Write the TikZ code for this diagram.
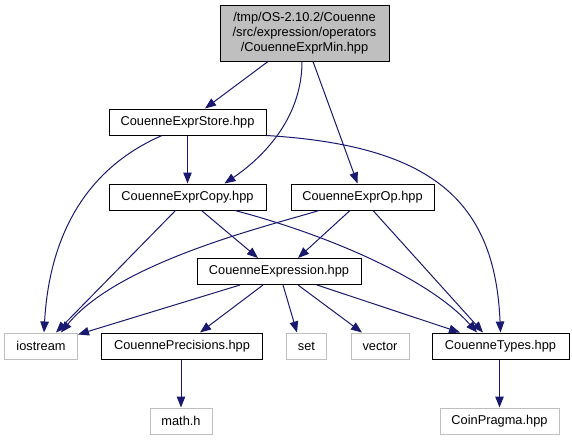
\documentclass[tikz,border=0pt]{standalone}
\usepackage{fontspec}
\setmainfont{Liberation Sans}
\usetikzlibrary{arrows.meta}
\definecolor{edgec}{HTML}{191970}
\definecolor{grayb}{HTML}{BFBFBF}
\begin{document}
\begin{tikzpicture}[x=1pt,y=-1pt,
  box/.style={draw=black, line width=1pt, rectangle, inner sep=0pt, minimum height=26pt,
    font=\fontsize{12.8}{15}\selectfont, text=black},
  ext/.style={box, draw=grayb},
  root/.style={box, fill=grayb, minimum height=56pt, align=center},
  e/.style={draw=edgec, line width=1pt, -{Triangle[length=11pt,width=8.5pt]}},
]
\useasboundingbox[fill=white] (0,0) rectangle (572,440);

\node[root, minimum width=169pt] (top) at (304.5,33) {/tmp/OS-2.10.2/Couenne\\/src/expression/operators\\/CouenneExprMin.hpp};
\node[box, minimum width=157pt] (store) at (187.5,122) {CouenneExprStore.hpp};
\node[box, minimum width=157pt] (copy) at (187.5,197) {CouenneExprCopy.hpp};
\node[box, minimum width=143pt] (op) at (362.5,197) {CouenneExprOp.hpp};
\node[box, minimum width=164pt] (expr) at (279,271.5) {CouenneExpression.hpp};
\node[ext, minimum width=73pt] (iostream) at (41,346) {iostream};
\node[box, minimum width=161pt] (prec) at (182,346) {CouennePrecisions.hpp};
\node[ext, minimum width=40pt] (set) at (306.5,346) {set};
\node[ext, minimum width=58pt] (vector) at (380,346) {vector};
\node[box, minimum width=137pt] (types) at (500.5,346) {CouenneTypes.hpp};
\node[ext, minimum width=62pt] (math) at (181,421) {math.h};
\node[ext, minimum width=119pt] (coin) at (499.5,421) {CoinPragma.hpp};

\draw[e] ([xshift=-36.5pt]top.south) -- ([xshift=17.5pt]store.north);
\draw[e] ([xshift=-2.5pt]top.south) .. controls +(0,59) and +(35.5,-24) .. ([xshift=37pt]copy.north);
\draw[e] ([xshift=8.5pt]top.south) -- ([xshift=-5pt]op.north);
\draw[e] (store.south) -- (copy.north);
\draw[e] ([xshift=-25.5pt]store.south) .. controls +(-92,40) and +(4,-73) .. ([xshift=3pt]iostream.north);
\draw[e] (store.south east) .. controls +(164,10) and +(-5.5,-133) .. (types.north);
\draw[e] ([xshift=-12pt]copy.south) -- ([xshift=15pt]iostream.north);
\draw[e] ([xshift=14pt]copy.south) -- ([xshift=-21pt]expr.north);
\draw[e] ([xshift=47.5pt]copy.south) .. controls +(95,25) and +(-47,-53) .. ([xshift=-23.5pt]types.north);
\draw[e] ([xshift=-43.5pt]op.south) .. controls +(-49,15) and +(58,-71) .. ([xshift=20pt]iostream.north);
\draw[e] ([xshift=-12.5pt]op.south) -- ([xshift=19pt]expr.north);
\draw[e] ([xshift=10.5pt]op.south) -- ([xshift=-17.5pt]types.north);
\draw[e] ([xshift=-39pt]expr.south) -- ([yshift=-2pt]iostream.north east);
\draw[e] ([xshift=-16pt]expr.south) -- ([xshift=18pt]prec.north);
\draw[e] ([xshift=4pt]expr.south) -- ([xshift=-9.5pt]set.north);
\draw[e] ([xshift=19pt]expr.south) -- ([xshift=-18pt]vector.north);
\draw[e] ([xshift=38pt]expr.south) -- ([xshift=-40.5pt]types.north);
\draw[e] (math.north |- prec.south) -- (math.north);
\draw[e] (coin.north |- types.south) -- (coin.north);
\end{tikzpicture}
\end{document}
